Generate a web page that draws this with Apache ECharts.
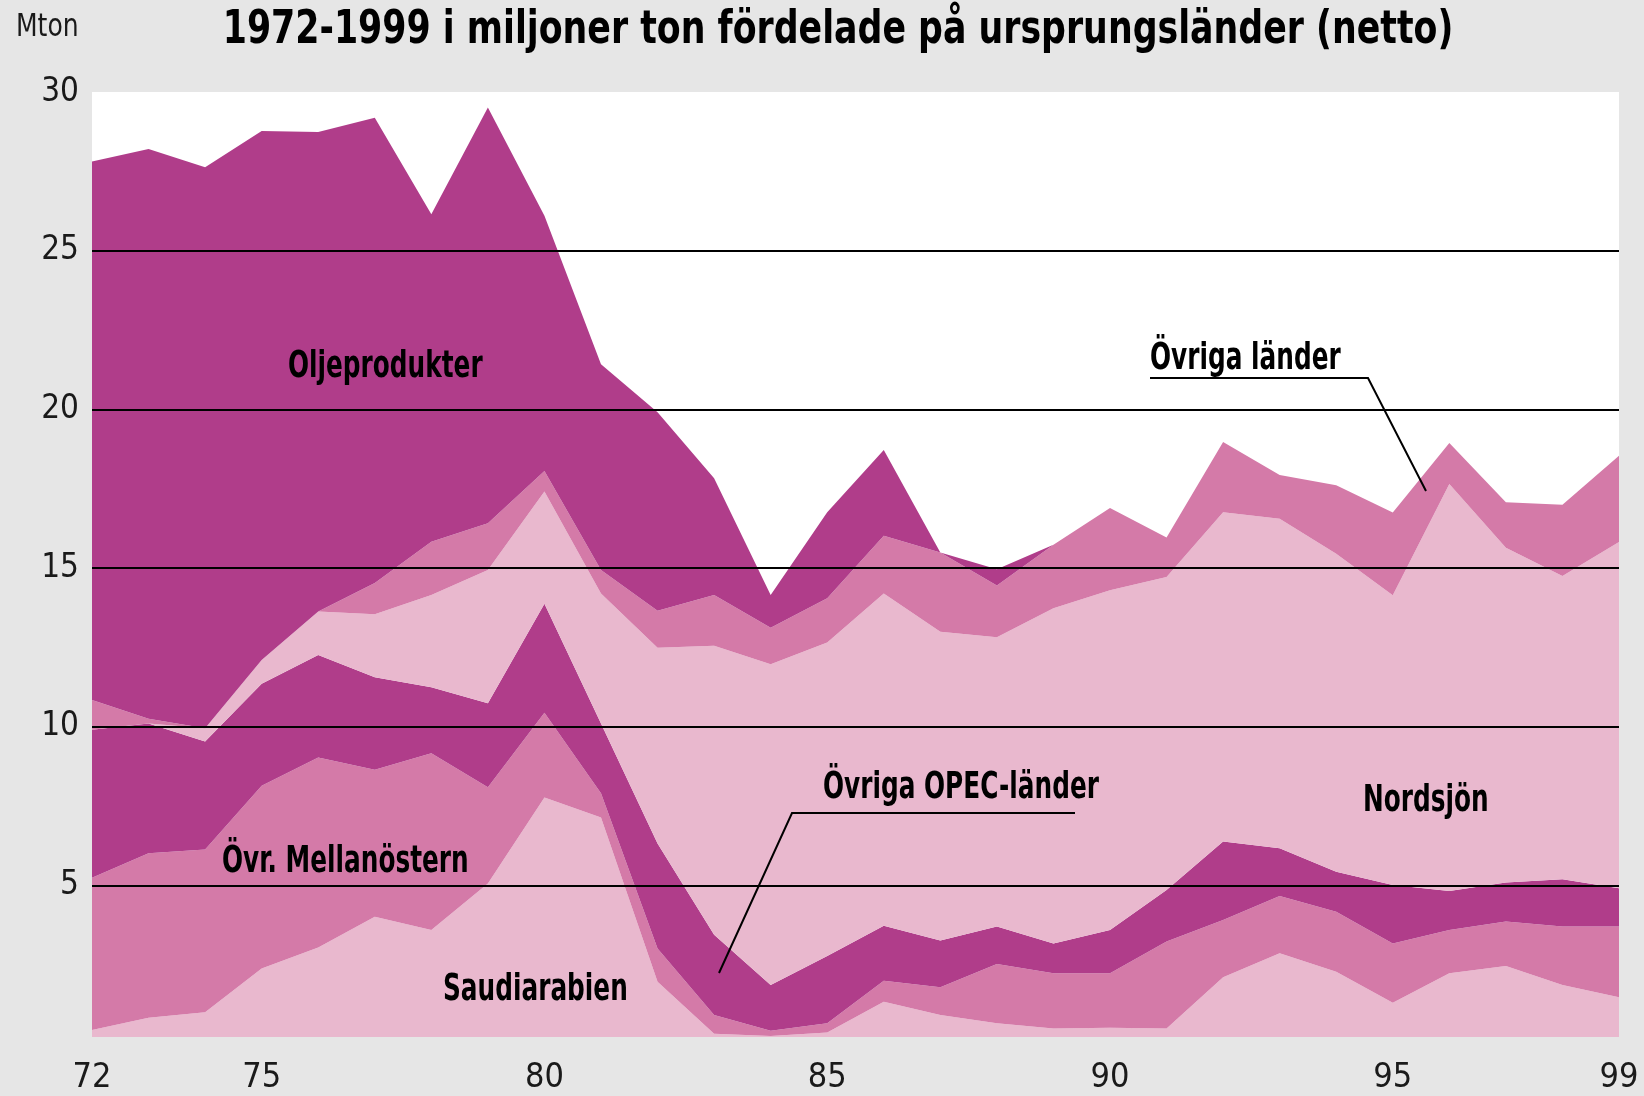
<!DOCTYPE html>
<html>
<head>
<meta charset="utf-8">
<script src="https://cdn.jsdelivr.net/npm/echarts@6/dist/echarts.min.js"></script>
<style>
    html, body { margin: 0; padding: 0; background: #e6e6e6; }
    #chart { width: 1644px; height: 1096px; }
</style>
</head>
<body>
<div id="chart"></div>
<script>
// år 1972-1999
var years = ['72', '73', '74', '75', '76', '77', '78', '79', '80', '81', '82', '83', '84', '85',
    '86', '87', '88', '89', '90', '91', '92', '93', '94', '95', '96', '97', '98', '99'];
var tickLabels = ['72', '75', '80', '85', '90', '95', '99'];

// miljoner ton per ursprung (staplade, nerifrån och upp)
var saudiarabien = [0.44, 0.83, 1.00, 2.38, 3.04, 4.01, 3.59, 5.06, 7.77, 7.14, 1.96, 0.32, 0.25, 0.36,
    1.33, 0.91, 0.65, 0.49, 0.51, 0.49, 2.10, 2.86, 2.28, 1.30, 2.23, 2.46, 1.86, 1.47];
var ovrMellanostern = [4.80, 5.18, 5.13, 5.76, 5.99, 4.63, 5.57, 3.03, 2.67, 0.76, 1.05, 0.59, 0.17, 0.29,
    0.66, 0.88, 1.87, 1.74, 1.72, 2.74, 1.81, 1.80, 1.89, 1.87, 1.36, 1.40, 1.84, 2.23];
var ovrigaOpec = [4.66, 4.09, 3.40, 3.21, 3.23, 2.92, 2.08, 2.65, 3.43, 2.20, 3.31, 2.53, 1.44, 2.12,
    1.74, 1.47, 1.18, 0.94, 1.36, 1.62, 2.47, 1.51, 1.26, 1.84, 1.23, 1.23, 1.49, 1.21];
var nordsjon = [0, 0, 0.42, 0.75, 1.37, 1.98, 2.91, 4.20, 3.54, 4.10, 6.17, 9.11, 10.11, 9.88,
    10.47, 9.73, 9.12, 10.56, 10.71, 9.87, 10.38, 10.38, 10.02, 9.13, 12.83, 10.55, 9.56, 10.91];
var ovrigaLander = [0.94, 0.15, 0, 0, 0, 0.99, 1.68, 1.47, 0.65, 0.74, 1.16, 1.60, 1.15, 1.40,
    1.82, 2.50, 1.63, 2.00, 2.59, 1.24, 2.21, 1.38, 2.16, 2.61, 1.29, 1.43, 2.24, 2.72];
var oljeprodukter = [16.97, 17.95, 17.68, 16.67, 15.11, 14.66, 10.32, 13.10, 8.04, 6.48, 6.26, 3.68, 1.03, 2.71,
    2.70, 0, 0.51, 0, 0, 0, 0, 0, 0, 0, 0, 0, 0, 0];

var dark = '#b03d8a',
    mid = '#d47aa8',
    light = '#e9b8ce',
    bg = '#e6e6e6';

var narrow = '"Liberation Sans Narrow", "DejaVu Sans Condensed", "Arial Narrow", sans-serif';

var chart = echarts.init(document.getElementById('chart'));

function layer(name, data, color) {
    return {
        name: name,
        type: 'line',
        stack: 'total',
        data: data,
        symbol: 'none',
        lineStyle: { width: 0 },
        areaStyle: { color: color, opacity: 1 },
        itemStyle: { color: color }
    };
}

// fet, smal etikett i diagrammet (typsnittet pressas ihop i sidled)
function label(text, x, y) {
    return {
        type: 'text',
        z: 100,
        x: x,
        y: y,
        scaleX: 0.725,
        style: {
            text: text,
            fill: '#000',
            font: 'bold 38px ' + narrow,
            align: 'left',
            verticalAlign: 'middle'
        }
    };
}

var option = {
    animation: false,
    backgroundColor: bg,
    grid: {
        left: 92,
        right: 25,
        top: 92,
        bottom: 52,
        show: true,
        backgroundColor: '#fff',
        borderWidth: 0
    },
    xAxis: {
        type: 'category',
        data: years,
        boundaryGap: false,
        axisLine: { show: false },
        axisTick: { show: false },
        axisLabel: {
            margin: 17,
            fontSize: 34,
            color: '#1a1a1a',
            fontFamily: narrow,
            interval: function (idx, val) {
                return tickLabels.indexOf(val) >= 0;
            }
        }
    },
    yAxis: {
        type: 'value',
        min: 0,
        max: 30,
        interval: 5,
        z: 10,
        axisLine: { show: false },
        axisTick: { show: false },
        axisLabel: {
            margin: 13,
            fontSize: 33,
            color: '#1a1a1a',
            fontFamily: narrow,
            formatter: function (v) {
                return v === 0 ? '' : v;
            }
        },
        splitLine: {
            lineStyle: {
                color: ['transparent', '#000', '#000', '#000', '#000', '#000', 'transparent'],
                width: 2
            }
        }
    },
    series: [
        layer('Saudiarabien', saudiarabien, light),
        layer('Övr. Mellanöstern', ovrMellanostern, mid),
        layer('Övriga OPEC-länder', ovrigaOpec, dark),
        layer('Nordsjön', nordsjon, light),
        layer('Övriga länder', ovrigaLander, mid),
        layer('Oljeprodukter', oljeprodukter, dark)
    ],
    graphic: [
        // plottytan slutar strax ovanför nollan
        {
            type: 'rect',
            z: 50,
            shape: { x: 80, y: 1037, width: 1564, height: 10 },
            style: { fill: bg }
        },
        {
            type: 'text',
            z: 100,
            x: 838,
            y: 31,
            scaleX: 0.84,
            style: {
                text: '1972-1999 i miljoner ton fördelade på ursprungsländer (netto)',
                fill: '#000',
                font: 'bold 46px ' + narrow,
                align: 'center',
                verticalAlign: 'middle'
            }
        },
        {
            type: 'text',
            z: 100,
            x: 16,
            y: 28,
            scaleX: 0.87,
            style: {
                text: 'Mton',
                fill: '#1a1a1a',
                font: '32px ' + narrow,
                align: 'left',
                verticalAlign: 'middle'
            }
        },
        label('Oljeprodukter', 288, 367),
        label('Övriga länder', 1150, 359),
        label('Övriga OPEC-länder', 823, 788),
        label('Övr. Mellanöstern', 222, 862),
        label('Saudiarabien', 443, 990),
        label('Nordsjön', 1363, 801),
        {
            type: 'polyline',
            z: 100,
            shape: { points: [[1150, 378], [1368, 378], [1426, 491]] },
            style: { stroke: '#000', lineWidth: 2, fill: null }
        },
        {
            type: 'polyline',
            z: 100,
            shape: { points: [[1075, 813], [792, 813], [719, 973]] },
            style: { stroke: '#000', lineWidth: 2, fill: null }
        }
    ]
};

chart.setOption(option);
</script>
</body>
</html>
